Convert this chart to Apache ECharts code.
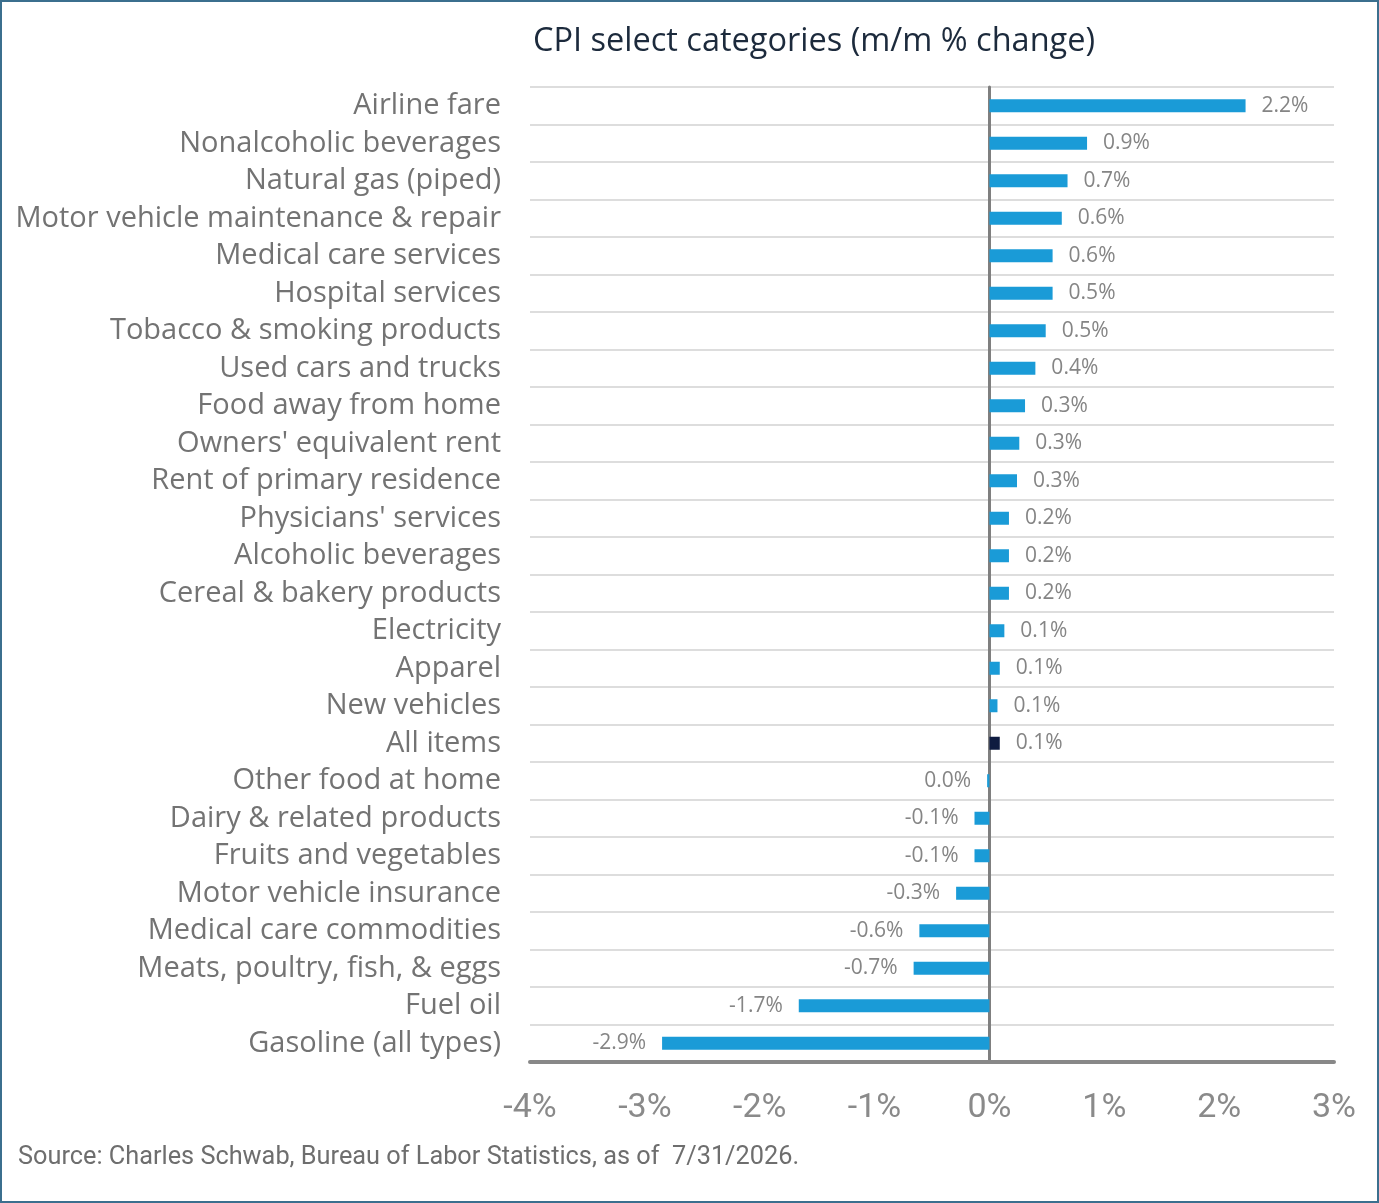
<!DOCTYPE html>
<html style="height: 100%">
<head>
<meta charset="utf-8">
<script src="https://cdn.jsdelivr.net/npm/echarts@6/dist/echarts.min.js"></script>
</head>
<body style="height: 100%; margin: 0; background: #fff">
<div id="container" style="width: 1379px; height: 1203px; box-sizing: border-box; border: 2px solid #3b6f8e"></div>
<script type="text/javascript">
var categories = [
    'Airline fare', 'Nonalcoholic beverages', 'Natural gas (piped)',
    'Motor vehicle maintenance & repair', 'Medical care services',
    'Hospital services', 'Tobacco & smoking products', 'Used cars and trucks',
    'Food away from home', "Owners' equivalent rent", 'Rent of primary residence',
    "Physicians' services", 'Alcoholic beverages', 'Cereal & bakery products',
    'Electricity', 'Apparel', 'New vehicles', 'All items', 'Other food at home',
    'Dairy & related products', 'Fruits and vegetables', 'Motor vehicle insurance',
    'Medical care commodities', 'Meats, poultry, fish, & eggs', 'Fuel oil',
    'Gasoline (all types)'
];
// bar lengths (m/m % change)
var values = [
    2.23, 0.85, 0.68, 0.63, 0.55, 0.55, 0.49, 0.40, 0.31, 0.26, 0.24,
    0.17, 0.17, 0.17, 0.13, 0.09, 0.07, 0.09, -0.02, -0.13, -0.13,
    -0.29, -0.61, -0.66, -1.66, -2.85
];
// printed labels
var valueLabels = [
    '2.2%', '0.9%', '0.7%', '0.6%', '0.6%', '0.5%', '0.5%', '0.4%', '0.3%', '0.3%', '0.3%',
    '0.2%', '0.2%', '0.2%', '0.1%', '0.1%', '0.1%', '0.1%', '0.0%', '-0.1%', '-0.1%',
    '-0.3%', '-0.6%', '-0.7%', '-1.7%', '-2.9%'
];
var highlight = 'All items';

var dom = document.getElementById('container');
var myChart = echarts.init(dom);

var barData = values.map(function (v, i) {
    return {
        value: v,
        itemStyle: { color: categories[i] === highlight ? '#0e1b40' : '#1a9bd7' },
        label: {
            position: v < 0 ? 'left' : 'right'
        }
    };
});

var option = {
    animation: false,
    title: {
        text: 'CPI select categories (m/m % change)',
        left: 526,
        top: 18,
        textStyle: { fontFamily: 'Open Sans', fontSize: 32.5, fontWeight: 'normal', color: '#1c2a3c' }
    },
    graphic: [{
        type: 'text',
        left: 16,
        top: 1143,
        style: {
            text: 'Source: Charles Schwab, Bureau of Labor Statistics, as of  7/31/2026.',
            font: '25.3px Roboto, sans-serif',
            fill: '#6e6e6e'
        }
    }],
    grid: { left: 528, right: 43, top: 85, bottom: 139, containLabel: false },
    xAxis: {
        type: 'value',
        min: -4,
        max: 3,
        interval: 1,
        axisLine: { show: true, onZero: false, lineStyle: { color: '#888', width: 4 } },
        axisTick: { show: false },
        splitLine: { show: false },
        axisLabel: {
            margin: 29,
            fontSize: 34,
            fontFamily: 'Roboto',
            color: '#8a8a8a',
            formatter: '{value}%'
        }
    },
    yAxis: {
        type: 'category',
        inverse: true,
        data: categories,
        axisLine: { show: true, onZero: true, lineStyle: { color: '#7f7f7f', width: 3 } },
        axisTick: { show: false, interval: 0 },
        splitLine: { show: true, interval: 0, lineStyle: { color: '#d2d2d2', width: 1.5 } },
        axisLabel: {
            interval: 0,
            margin: 29,
            fontSize: 29,
            fontFamily: 'Open Sans',
            color: '#737373'
        }
    },
    series: [{
        type: 'bar',
        data: barData,
        barWidth: 13,
        label: {
            show: true,
            distance: 16,
            fontSize: 21,
            fontFamily: 'Open Sans',
            color: '#858585',
            formatter: function (p) { return valueLabels[p.dataIndex]; }
        }
    }]
};
myChart.setOption(option);
</script>
</body>
</html>
